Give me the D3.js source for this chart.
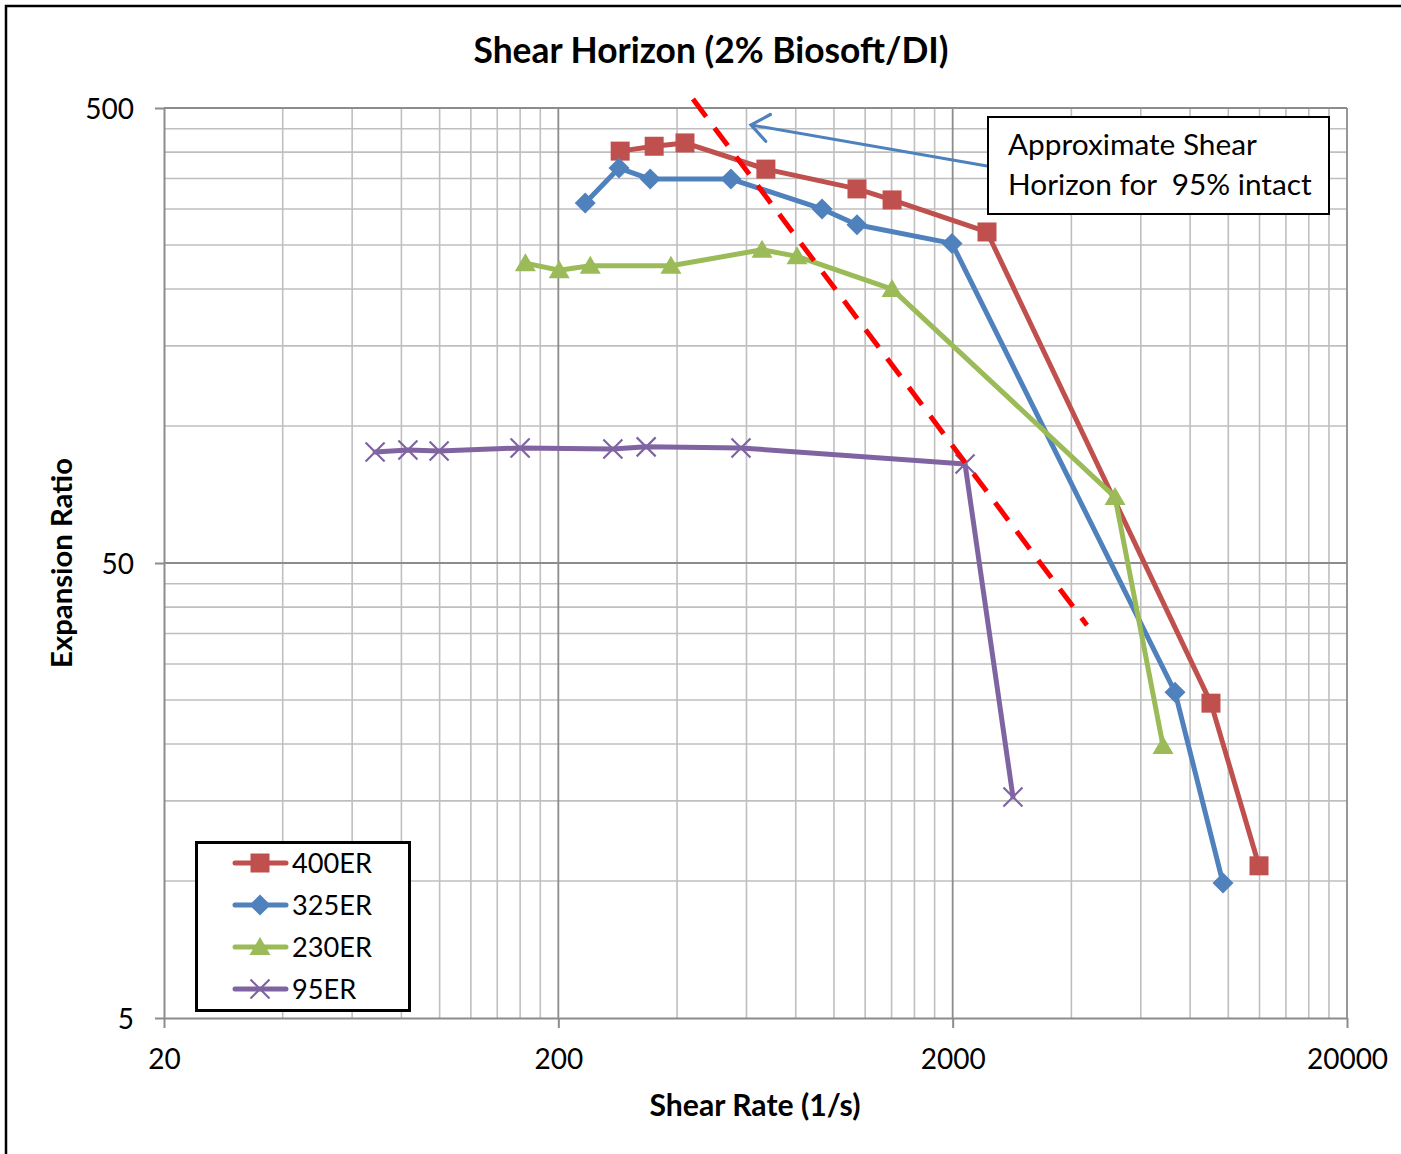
<!DOCTYPE html>
<html>
<head>
<meta charset="utf-8">
<script src="https://cdn.jsdelivr.net/npm/d3@7"></script>
<style>
html,body{margin:0;padding:0;background:#fff;}
svg{display:block;font-family:Lato, "Open Sans", sans-serif;}
</style>
</head>
<body>
<svg id="chart" width="1401" height="1154"></svg>
<script>
// ---- data ----
const seriesNames = ["400ER", "325ER", "230ER", "95ER"];
const rate400 = [287, 350, 419, 672, 1144, 1404, 2444, 9038, 11964];
const er400   = [402, 412, 419, 367, 332, 314, 267, 24.6, 10.8];
const rate325 = [234, 285, 342, 548, 933, 1144, 1992, 7327, 9696];
const er325   = [309, 369, 349, 349, 300, 277, 252, 26.0, 9.9];
const rate230 = [165, 201, 241, 386, 657, 806, 1404, 5162, 6832];
const er230   = [228, 220, 225, 225, 244, 236, 200, 69.8, 19.8];
const rate95  = [68.6, 83.1, 99.7, 160, 275, 334, 581, 2150, 2844];
const er95    = [87.7, 88.6, 88.1, 89.5, 89.0, 90.0, 89.5, 82.5, 15.3];
const horizonRate = [439, 4381];
const horizonER   = [523, 36.5];
const arrowRate = [2444, 616];   // tail, tip
const arrowER   = [373, 459];
const xTicks = [20, 200, 2000, 20000];
const yTicks = [5, 50, 500];
const xMinor = [40,60,80,100,120,140,160,180,400,600,800,1000,1200,1400,1600,1800,4000,6000,8000,10000,12000,14000,16000,18000];
const yMinor = [10,15,20,25,30,35,40,45,100,150,200,250,300,350,400,450];
const titleText = "Shear Horizon (2% Biosoft/DI)";
const xLabel = "Shear Rate (1/s)";
const yLabel = "Expansion Ratio";
const noteLines = ["Approximate Shear", "Horizon for\u00a0\u00a095% intact"];

// ---- layout ----
const svg = d3.select("#chart");
const L = 164, R = 1347, T = 108, B = 1018;
const x = d3.scaleLog().domain([20, 20000]).range([L, R]);
const y = d3.scaleLog().domain([5, 500]).range([B, T]);

const colors = {"400ER":"#C0504D","325ER":"#4F81BD","230ER":"#9BBB59","95ER":"#8064A2"};
const shapes = {"400ER":"square","325ER":"diamond","230ER":"triangle","95ER":"x"};
const series = [
  {name:"400ER", xs:rate400, ys:er400},
  {name:"325ER", xs:rate325, ys:er325},
  {name:"230ER", xs:rate230, ys:er230},
  {name:"95ER",  xs:rate95,  ys:er95}
];

function fitText(sel, target){
  const fs = parseFloat(sel.attr("font-size"));
  const w = sel.node().getComputedTextLength();
  const nfs = fs * target / w;
  sel.attr("font-size", nfs);
  return nfs;
}

// outer border (top and left visible)
svg.append("path").attr("d","M6,1154 L6,6 L1401,6").attr("fill","none").attr("stroke","#000").attr("stroke-width",2.5);

// grid
const grid = svg.append("g");
grid.selectAll("line.xm").data(xMinor).join("line")
  .attr("x1", d=>x(d)).attr("x2", d=>x(d)).attr("y1", T).attr("y2", B)
  .attr("stroke","#BFBFBF").attr("stroke-width",1.6);
grid.selectAll("line.ym").data(yMinor).join("line")
  .attr("x1", L).attr("x2", R).attr("y1", d=>y(d)).attr("y2", d=>y(d))
  .attr("stroke","#BFBFBF").attr("stroke-width",1.6);
grid.selectAll("line.xM").data(xTicks.slice(1)).join("line")
  .attr("x1", d=>x(d)).attr("x2", d=>x(d)).attr("y1", T).attr("y2", B)
  .attr("stroke","#8C8C8C").attr("stroke-width",1.8);
grid.selectAll("line.yM").data(yTicks.slice(1)).join("line")
  .attr("x1", L).attr("x2", R).attr("y1", d=>y(d)).attr("y2", d=>y(d))
  .attr("stroke","#8C8C8C").attr("stroke-width",1.8);

// axes
const yAxis = svg.append("g").attr("transform",`translate(${L},0)`)
  .call(d3.axisLeft(y).tickValues(yTicks).tickFormat(d3.format("d")).tickSize(9).tickSizeOuter(0).tickPadding(21));
const xAxis = svg.append("g").attr("transform",`translate(0,${B})`)
  .call(d3.axisBottom(x).tickValues(xTicks).tickFormat(d3.format("d")).tickSize(10).tickSizeOuter(0).tickPadding(21));
[yAxis, xAxis].forEach(a=>{
  a.select(".domain").attr("stroke","#8C8C8C").attr("stroke-width",2);
  a.selectAll(".tick line").attr("stroke","#8C8C8C").attr("stroke-width",2);
  a.selectAll(".tick text").attr("font-family","Lato").attr("font-size",28).attr("fill","#000");
});
yAxis.selectAll(".tick text").attr("dy","0.38em");

// series lines
const line = d3.line().x(d=>x(d[0])).y(d=>y(d[1]));
const gS = svg.append("g");
series.forEach(s=>{
  const pts = s.xs.map((v,i)=>[v, s.ys[i]]);
  gS.append("path").datum(pts).attr("d", line).attr("fill","none")
    .attr("stroke", colors[s.name]).attr("stroke-width",5)
    .attr("stroke-linejoin","round").attr("stroke-linecap","round");
});

function drawMarker(g, shape, cx, cy, color){
  if(shape==="square"){
    g.append("rect").attr("x",cx-9.5).attr("y",cy-9.5).attr("width",19).attr("height",19).attr("fill",color);
  } else if(shape==="diamond"){
    g.append("path").attr("d",`M${cx},${cy-10.5} L${cx+10.5},${cy} L${cx},${cy+10.5} L${cx-10.5},${cy} Z`).attr("fill",color);
  } else if(shape==="triangle"){
    g.append("path").attr("d",`M${cx},${cy-10} L${cx+10.5},${cy+8} L${cx-10.5},${cy+8} Z`).attr("fill",color);
  } else {
    g.append("path").attr("d",`M${cx-9.5},${cy-9.5} L${cx+9.5},${cy+9.5} M${cx-9.5},${cy+9.5} L${cx+9.5},${cy-9.5}`)
      .attr("stroke",color).attr("stroke-width",2.2).attr("fill","none");
  }
}
series.forEach(s=>{
  const g = gS.append("g");
  s.xs.forEach((v,i)=> drawMarker(g, shapes[s.name], x(v), y(s.ys[i]), colors[s.name]));
});

// approximate shear horizon (dashed red)
svg.append("line")
  .attr("x1", x(horizonRate[0])).attr("y1", y(horizonER[0]))
  .attr("x2", x(horizonRate[1])).attr("y2", y(horizonER[1]))
  .attr("stroke","#FF0000").attr("stroke-width",5).attr("stroke-dasharray","22,14");

// arrow
const tx = x(arrowRate[0]), ty = y(arrowER[0]), hx = x(arrowRate[1]), hy = y(arrowER[1]);
svg.append("line").attr("x1",tx).attr("y1",ty).attr("x2",hx).attr("y2",hy)
  .attr("stroke","#4F81BD").attr("stroke-width",3);
const ang = Math.atan2(ty-hy, tx-hx), th = 38*Math.PI/180, al = 22;
svg.append("path")
  .attr("d",`M${hx+al*Math.cos(ang-th)},${hy+al*Math.sin(ang-th)} L${hx},${hy} L${hx+al*Math.cos(ang+th)},${hy+al*Math.sin(ang+th)}`)
  .attr("fill","none").attr("stroke","#4F81BD").attr("stroke-width",3.2).attr("stroke-linecap","round");

// annotation box
const note = svg.append("g");
note.append("rect").attr("x",988).attr("y",117).attr("width",341).attr("height",97)
  .attr("fill","#fff").attr("stroke","#000").attr("stroke-width",2);
const n1 = note.append("text").attr("x",1008).attr("y",155).attr("font-size",26).text(noteLines[0]);
const nfs = fitText(n1, 249);
note.append("text").attr("x",1008).attr("y",195).attr("font-size",nfs).text(noteLines[1]);

// legend
const lg = svg.append("g");
lg.append("rect").attr("x",196.5).attr("y",842.5).attr("width",213).attr("height",168)
  .attr("fill","#fff").attr("stroke","#000").attr("stroke-width",3);
let lfs = null;
seriesNames.forEach((nm,i)=>{
  const cy = 863 + i*42;
  lg.append("line").attr("x1",235).attr("x2",286).attr("y1",cy).attr("y2",cy)
    .attr("stroke",colors[nm]).attr("stroke-width",5).attr("stroke-linecap","round");
  drawMarker(lg, shapes[nm], 260, cy, colors[nm]);
  const t = lg.append("text").attr("x",292).attr("y",cy+10).attr("font-size",lfs||26).text(nm);
  if(i===0) lfs = fitText(t, 80);
});

// title and axis titles
const tt = svg.append("text").attr("x",711).attr("y",63).attr("text-anchor","middle")
  .attr("font-weight","bold").attr("font-size",31).text(titleText);
fitText(tt, 475);
const xl = svg.append("text").attr("x",755).attr("y",1116).attr("text-anchor","middle")
  .attr("font-weight","bold").attr("font-size",27).text(xLabel);
fitText(xl, 211);
const yl = svg.append("text").attr("transform","translate(72,563) rotate(-90)").attr("text-anchor","middle")
  .attr("font-weight","bold").attr("font-size",27).text(yLabel);
fitText(yl, 210);
</script>
</body>
</html>
